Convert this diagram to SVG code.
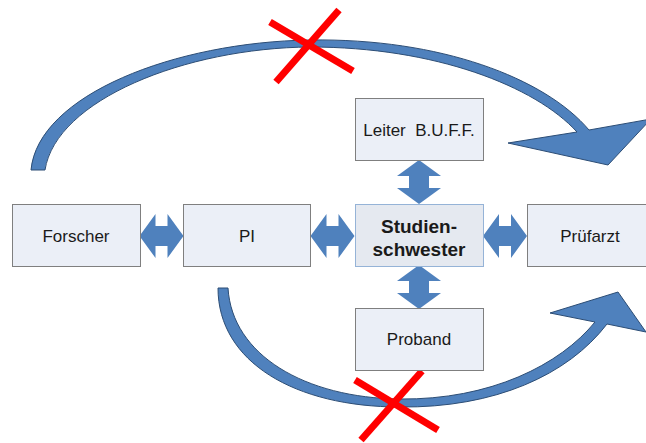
<svg xmlns="http://www.w3.org/2000/svg" xmlns:xlink="http://www.w3.org/1999/xlink" width="646" height="443" viewBox="0 0 646 443">
<style>
.box{fill:#EBEFF7;stroke:#7F7F7F;stroke-width:1}
.boxc{fill:#E5E9F0;stroke:#95B3D7;stroke-width:1}
.t{font-family:"Liberation Sans",Arial,sans-serif;font-size:17px;fill:#1a1a1a;text-anchor:middle}
.tb{font-family:"Liberation Sans",Arial,sans-serif;font-size:19px;font-weight:bold;fill:#1a1a1a;text-anchor:middle}
.dbl{fill:#4F81BD}
.curve{fill:#4F81BD;stroke:#2C4D75;stroke-width:1;stroke-linejoin:miter}
.x{stroke:#FF0000;stroke-width:7;stroke-linecap:butt}
</style>
<defs>
<path id="dbl" d="M-22,0 L-6,-22 L-6,-10 L6,-10 L6,-22 L22,0 L6,22 L6,10 L-6,10 L-6,22 Z"/>
</defs>
<rect width="646" height="443" fill="#FFFFFF"/>
<g id="connectors">
<path class="curve" d="M31,170 C38,95 175,42 310,40 C440,38 545,78 589,130 L651,119 L608,165 L508,143 L577,132 C535,86 435,47 310,47 C185,48 56,100 45,170 Z"/>
<path class="curve" d="M228,288 C232,355 305,398 400,399 C490,400 560,365 595,322 L550,313 L618,292 L646,332 L607,324 C568,375 495,408 400,407 C295,407 218,362 218,288 Z"/>
<use xlink:href="#dbl" href="#dbl" class="dbl" transform="translate(161.5,236)"/>
<use xlink:href="#dbl" href="#dbl" class="dbl" transform="translate(332.5,236)"/>
<use xlink:href="#dbl" href="#dbl" class="dbl" transform="translate(505,236)"/>
<use xlink:href="#dbl" href="#dbl" class="dbl" transform="translate(419,182) rotate(90)"/>
<use xlink:href="#dbl" href="#dbl" class="dbl" transform="translate(419,287) rotate(90)"/>
<line class="x" x1="270" y1="22" x2="353" y2="71"/>
<line class="x" x1="339" y1="10" x2="276" y2="82"/>
<line class="x" x1="355" y1="380" x2="438" y2="430"/>
<line class="x" x1="422" y1="371" x2="361" y2="440"/>
</g>
<g id="forscher">
<rect class="box" x="12.5" y="204.5" width="128" height="62"/>
<text class="t" x="76" y="242">Forscher</text>
</g>
<g id="pi">
<rect class="box" x="183.5" y="204.5" width="127" height="62"/>
<text class="t" x="247" y="242">PI</text>
</g>
<g id="studienschwester">
<rect class="boxc" x="355.5" y="204.5" width="128" height="62"/>
<text class="tb" x="419" y="233">Studien-</text>
<text class="tb" x="419" y="256">schwester</text>
</g>
<g id="pruefarzt">
<rect class="box" x="527.5" y="204.5" width="125" height="62"/>
<text class="t" x="590" y="242">Prüfarzt</text>
</g>
<g id="leiter">
<rect class="box" x="355.5" y="98.5" width="128" height="62"/>
<text class="t" x="419" y="136" xml:space="preserve">Leiter  B.U.F.F.</text>
</g>
<g id="proband">
<rect class="box" x="355.5" y="308.5" width="128" height="62"/>
<text class="t" x="419" y="345">Proband</text>
</g>
</svg>
